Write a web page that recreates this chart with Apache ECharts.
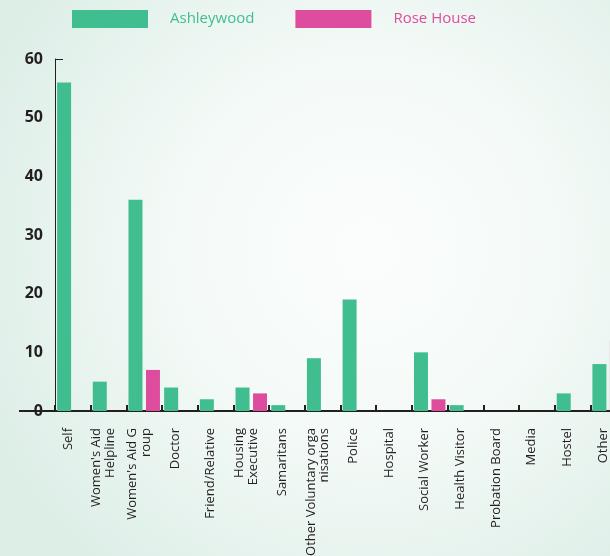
<!DOCTYPE html>
<html>
<head>
<meta charset="utf-8">
<script src="https://cdn.jsdelivr.net/npm/echarts@6/dist/echarts.min.js"></script>
<style>
html,body{margin:0;padding:0;}
#c{width:610px;height:556px;}
</style>
</head>
<body>
<div id="c"></div>
<script>
const categories = ["Self","Women's Aid\nHelpline","Women's Aid G\nroup","Doctor","Friend/Relative","Housing\nExecutive","Samaritans","Other Voluntary orga\nnisations","Police","Hospital","Social Worker","Health Visitor","Probation Board","Media","Hostel","Other"];
const ashleywood = [56,5,36,4,2,4,1,9,19,0,10,1,0,0,3,8];
const roseHouse  = [0,0,7,0,0,3,0,0,0,0,2,0,0,0,0,12];
const seriesNames = ["Ashleywood","Rose House"];
const yTicks = [0,10,20,30,40,50,60];

const GREEN = '#41be8f', PINK = '#de4d9d', INK = '#231f20';
const chart = echarts.init(document.getElementById('c'), null, {renderer:'canvas'});

const option = {
  animation:false,
  backgroundColor:{
    type:'radial', x:0.6, y:0.45, r:0.75,
    colorStops:[{offset:0,color:'#fbfdfc'},{offset:0.45,color:'#f4faf7'},{offset:1,color:'#ddeee7'}]
  },
  legend:{
    left:72, top:10, padding:0, itemWidth:76, itemHeight:18, itemGap:41,
    icon:'rect',
    textStyle:{fontFamily:'Open Sans', fontSize:15, padding:[0,0,0,17]},
    data:[
      {name:seriesNames[0], textStyle:{color:GREEN}},
      {name:seriesNames[1], textStyle:{color:PINK}}
    ]
  },
  grid:{left:55, right:-16, top:59, bottom:145, outerBoundsMode:'none', containLabel:false},
  xAxis:{
    type:'category', data:categories,
    axisLine:{lineStyle:{color:INK, width:2}},
    axisTick:{show:true, inside:true, length:6, lineStyle:{color:INK, width:2}},
    axisLabel:{
      rotate:90, interval:0, margin:17, color:INK,
      fontFamily:'Open Sans', fontSize:13, lineHeight:13.5,
      formatter: v => v.split('\n').map(l => '{t|' + l + '}').join('\n') + '\n{s|\u00a0}',
      rich:{
        t:{fontFamily:'Open Sans', fontSize:13, lineHeight:13.5, color:INK},
        s:{fontSize:1, lineHeight:10}
      }
    }
  },
  yAxis:{
    type:'value', min:0, max:60, interval:10,
    splitLine:{show:false},
    axisLine:{show:true, lineStyle:{color:INK, width:1}},
    axisTick:{show:true, inside:true, length:8, customValues:[60], lineStyle:{color:INK, width:1}},
    axisLabel:{color:INK, fontFamily:'Open Sans', fontWeight:'bold', fontSize:16, margin:12,
      customValues:yTicks}
  },
  series:[
    {name:seriesNames[0], type:'bar', data:ashleywood, barWidth:14, barGap:'25%', itemStyle:{color:GREEN}},
    {name:seriesNames[1], type:'bar', data:roseHouse, barWidth:14, barGap:'25%', itemStyle:{color:PINK}}
  ]
};
chart.setOption(option);
const y0 = chart.convertToPixel({yAxisIndex:0}, 0);
chart.setOption({graphic:[{type:'line', shape:{x1:19, y1:y0, x2:55, y2:y0}, style:{stroke:INK, lineWidth:2}, z:10}]});
</script>
</body>
</html>
